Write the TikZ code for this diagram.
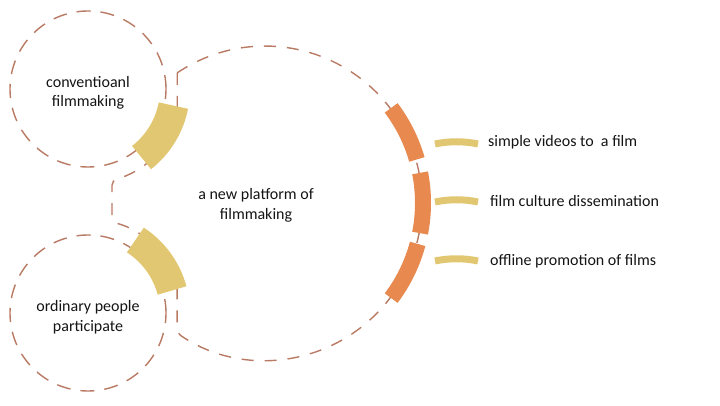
\documentclass[tikz,border=0pt]{standalone}
\usepackage{fontspec}
\setmainfont{Carlito}
\definecolor{dashc}{RGB}{185,122,99}
\definecolor{orng}{RGB}{232,137,79}
\definecolor{ylw}{RGB}{226,199,114}
\definecolor{txt}{RGB}{20,20,20}
\begin{document}
\begin{tikzpicture}[x=1pt,y=1pt,
  smalldash/.style={draw=dashc, line width=1.4pt, dash pattern=on 14pt off 10pt},
  bigdash/.style={draw=dashc, line width=1.4pt, dash pattern=on 12pt off 11pt},
  lbl/.style={font=\fontsize{16}{20}\selectfont, text=txt, align=center, inner sep=0pt, anchor=base},
  rlbl/.style={font=\fontsize{16}{20}\selectfont, text=txt, inner sep=0pt, anchor=base west},
  orangeband/.style={draw=orng, line width=16pt},
  yellowband/.style={draw=ylw, line width=30pt},
  tick/.style={draw=ylw, line width=7pt}
  ]
\useasboundingbox (0,0) rectangle (720,405);
\coordinate (bc) at (265,202);
\coordinate (tc) at (88,316);
\coordinate (lc) at (88,92);
% small circles
\node[circle, smalldash, minimum size=156pt, inner sep=0pt] (topc) at (tc) {};
\node[circle, smalldash, minimum size=156pt, inner sep=0pt] (botc) at (lc) {};
% big outline
\draw[bigdash, rounded corners=5pt] (177.2,332.2) -- (177.2,286)
  arc[start angle=-18.4, end angle=-75.2, radius=94] -- (112,183)
  arc[start angle=75.2, end angle=18.4, radius=94] -- (177.2,71.8)
  arc[start angle=236, end angle=484, radius=157];
% yellow bands
\draw[yellowband] ([shift={(-52:87)}]tc) arc[start angle=-52, end angle=-11, radius=87];
\draw[yellowband] ([shift={(15:87)}]lc) arc[start angle=15, end angle=57, radius=87];
% orange bands
\draw[orangeband] ([shift={(16:158)}]bc) arc[start angle=16, end angle=37, radius=158];
\draw[orangeband] ([shift={(-11:158)}]bc) arc[start angle=-11, end angle=11, radius=158];
\draw[orangeband] ([shift={(-37:158)}]bc) arc[start angle=-37, end angle=-15, radius=158];
% right ticks
\draw[tick] (435,261) .. controls (449,264) and (464,264) .. (478,261);
\draw[tick] (435,203) .. controls (449,206) and (464,206) .. (478,203);
\draw[tick] (435,144) .. controls (449,147) and (464,147) .. (478,144);
% labels
\node[lbl] (t1) at (88,298) {conventioanl\\filmmaking};
\node[lbl] (t2) at (256,186) {a new platform of\\filmmaking};
\node[lbl] (t3) at (88,74) {ordinary people\\participate};
\node[rlbl] (r1) at (488,258.3) {simple videos to\ \ a film};
\node[rlbl] (r2) at (490,199) {film culture dissemination};
\node[rlbl] (r3) at (490,140) {offline promotion of films};
\end{tikzpicture}
\end{document}
